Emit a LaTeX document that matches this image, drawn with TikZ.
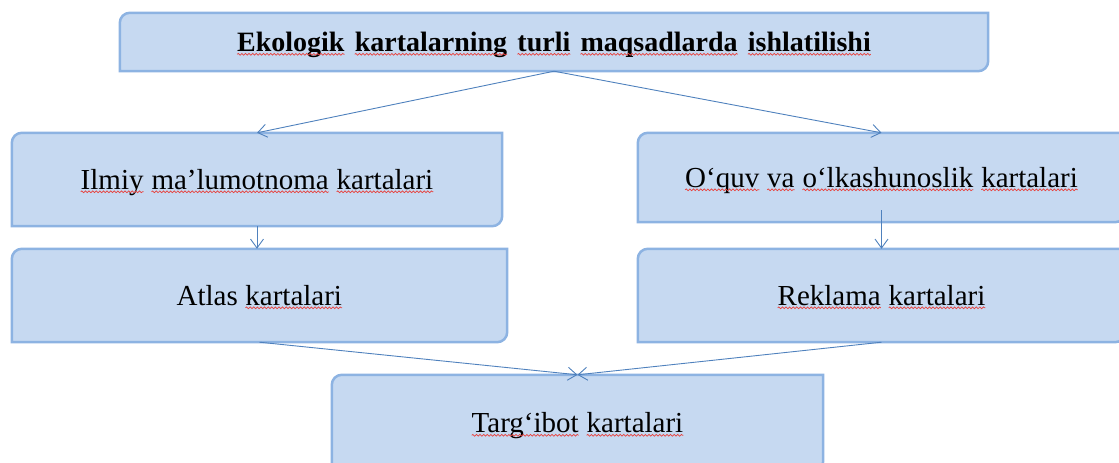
\documentclass[tikz,border=0pt]{standalone}
\usepackage{fontspec}
\setmainfont{Liberation Serif}
\usetikzlibrary{arrows.meta, backgrounds, decorations.pathmorphing}
\definecolor{boxfill}{HTML}{C6D9F1}
\definecolor{boxedge}{HTML}{8DB3E2}
\definecolor{linkblue}{HTML}{4F81BD}
\definecolor{spellred}{HTML}{E8413C}
\newcommand{\wavy}[1]{\tikz[baseline=(wd.base)]{\node[inner sep=0pt, outer sep=0pt, minimum width=0pt, minimum height=0pt, text height=, text depth=, draw=none, fill=none, anchor=base] (wd) {#1};
  \draw[spellred, line width=0.7pt, decorate, decoration={snake, amplitude=0.9pt, segment length=3.6pt}] ([yshift=-2.8pt]wd.base west) -- ([yshift=-2.8pt]wd.base east);}}

\begin{document}
\begin{tikzpicture}[x=1pt, y=-1pt,
  kbox/.style={inner sep=0pt, text height=27pt, text depth=8pt, font=\fontsize{29}{33}\selectfont},
  link/.style={draw=linkblue, line width=0.9pt, -{Straight Barb[length=9pt,width=13pt]}}]
  \useasboundingbox (0,0) rectangle (1119,463);
  \node[kbox, minimum width=868pt, minimum height=58pt, font=\fontsize{28}{32}\selectfont\bfseries] (title) at (554,42)
    {\spaceskip=0.34em \wavy{Ekologik} \wavy{kartalarning} \wavy{turli} \wavy{maqsadlarda} \wavy{ishlatilishi}};
  \node[kbox, minimum width=490pt, minimum height=93pt] (ilmiy) at (257,179.5)
    {\wavy{Ilmiy} \wavy{ma’lumotnoma} \wavy{kartalari}};
  \node[kbox, minimum width=487pt, minimum height=89pt] (oquv) at (881.5,177.5)
    {\wavy{O‘quv} \wavy{va} \wavy{o‘lkashunoslik} \wavy{kartalari}};
  \node[kbox, minimum width=495pt, minimum height=93pt] (atlas) at (259.5,295.5)
    {Atlas \wavy{kartalari}};
  \node[kbox, minimum width=487pt, minimum height=93pt] (reklama) at (881.5,295.5)
    {\wavy{Reklama} \wavy{kartalari}};
  \node[kbox, minimum width=491pt, minimum height=96pt] (targ) at (577.5,423)
    {\wavy{Targ‘ibot} \wavy{kartalari}};
  % box outlines, round top left and bottom right
  \begin{scope}[on background layer]
    \foreach \b in {title, ilmiy, oquv, atlas, reklama, targ}
      \filldraw[fill=boxfill, draw=boxedge, line width=2.5pt]
        (\b.west) [rounded corners=10pt] -- (\b.north west) -- (\b.north) [sharp corners] -- (\b.north east)
        -- (\b.east) [rounded corners=10pt] -- (\b.south east) -- (\b.south) [sharp corners] -- (\b.south west) -- cycle;
  \end{scope}
  \draw[link] (title.south) -- (ilmiy.north);
  \draw[link] (title.south) -- (oquv.north);
  \draw[link] (ilmiy.south) -- (ilmiy.south |- atlas.north);
  \draw[link] ([yshift=12pt]oquv.south) -- (reklama.north);
  \draw[link] (atlas.south) -- (targ.north);
  \draw[link] (reklama.south) -- (targ.north);
\end{tikzpicture}
\end{document}
